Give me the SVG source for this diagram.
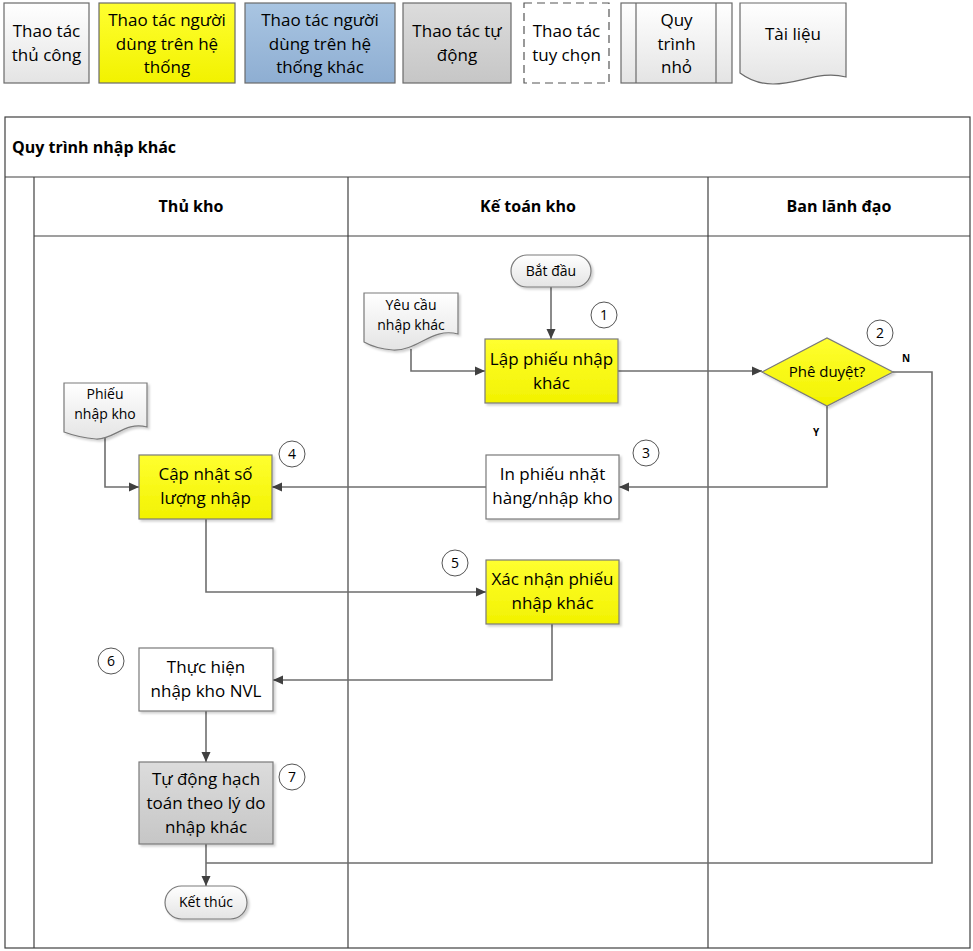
<svg xmlns="http://www.w3.org/2000/svg" width="973" height="951" viewBox="0 0 973 951">
<defs>
<linearGradient id="gW" x1="0" y1="0" x2="0" y2="1"><stop offset="0" stop-color="#ffffff"/><stop offset="1" stop-color="#e4e4e4"/></linearGradient>
<linearGradient id="gY" x1="0" y1="0" x2="0" y2="1"><stop offset="0" stop-color="#ffff30"/><stop offset="1" stop-color="#f2f200"/></linearGradient>
<linearGradient id="gB" x1="0" y1="0" x2="0" y2="1"><stop offset="0" stop-color="#a9c5e2"/><stop offset="1" stop-color="#8eaed2"/></linearGradient>
<linearGradient id="gG" x1="0" y1="0" x2="0" y2="1"><stop offset="0" stop-color="#dcdcdc"/><stop offset="1" stop-color="#c6c6c6"/></linearGradient>
<filter id="sh" x="-10%" y="-10%" width="130%" height="130%"><feDropShadow dx="2" dy="2" stdDeviation="1" flood-color="#000" flood-opacity="0.18"/></filter>
<marker id="ar" viewBox="0 0 10 10" refX="10" refY="5" markerWidth="10" markerHeight="10" markerUnits="userSpaceOnUse" orient="auto"><path d="M0,0.5 L10,5 L0,9.5 Z" fill="#404040"/></marker>
</defs>
<style>
.t{font-family:"Open Sans","Noto Sans",sans-serif;font-size:17px;fill:#000;text-anchor:middle}
.s{font-family:"Open Sans","Noto Sans",sans-serif;font-size:14px;fill:#000;text-anchor:middle}
.b{font-family:"Open Sans","Noto Sans",sans-serif;font-size:16px;font-weight:bold;fill:#000;text-anchor:middle}
.yn{font-family:"Open Sans","Noto Sans",sans-serif;font-size:10px;font-weight:bold;fill:#000;text-anchor:middle}
.box{stroke:#7a7a7a;stroke-width:1.2;filter:url(#sh)}
.lg{stroke:#6a6a6a;stroke-width:1.2}
.pl{fill:none;stroke:#404040;stroke-width:1.2}
.c{fill:none;stroke:#6e6e6e;stroke-width:1.6}
.num{fill:#fff;stroke:#555;stroke-width:1}
</style>
<rect x="0" y="0" width="973" height="951" fill="#fff"/>

<g id="legend">
<g id="lg-manual"><rect class="lg" x="4" y="3" width="85" height="80" fill="url(#gW)"/>
<text class="t" x="46.5" y="37">Thao tác</text><text class="t" x="46.5" y="61">thủ công</text></g>
<g id="lg-user"><rect class="lg" x="99" y="3" width="136" height="80" fill="url(#gY)"/>
<text class="t" x="167" y="26">Thao tác người</text><text class="t" x="167" y="50">dùng trên hệ</text><text class="t" x="167" y="73">thống</text></g>
<g id="lg-other"><rect class="lg" x="245" y="3" width="150" height="80" fill="url(#gB)"/>
<text class="t" x="320" y="26">Thao tác người</text><text class="t" x="320" y="50">dùng trên hệ</text><text class="t" x="320" y="73">thống khác</text></g>
<g id="lg-auto"><rect class="lg" x="403" y="3" width="108" height="80" fill="url(#gG)"/>
<text class="t" x="457" y="37">Thao tác tự</text><text class="t" x="457" y="61">động</text></g>
<g id="lg-opt"><rect class="lg" x="524" y="3" width="85" height="80" fill="#fff" stroke="#555" style="stroke:#555" stroke-dasharray="8,5"/>
<text class="t" x="566.5" y="37">Thao tác</text><text class="t" x="566.5" y="61">tuy chọn</text></g>
<g id="lg-sub"><rect class="lg" x="621" y="3" width="111" height="80" fill="url(#gW)"/>
<line class="lg" x1="636" y1="3" x2="636" y2="83"/><line class="lg" x1="716" y1="3" x2="716" y2="83"/>
<text class="t" x="676.5" y="26">Quy</text><text class="t" x="676.5" y="50">trình</text><text class="t" x="676.5" y="73">nhỏ</text></g>
<g id="lg-doc"><path class="lg" d="M740,3 H846 V77 C820,70 800,84 773,84 C758,84 748,79 740,73 Z" fill="url(#gW)"/>
<text class="t" x="793" y="40">Tài liệu</text></g>
</g>

<g id="pool">
<rect class="pl" x="5" y="117" width="965" height="831"/>
<line class="pl" x1="5" y1="177" x2="970" y2="177"/>
<line class="pl" x1="34" y1="177" x2="34" y2="948"/>
<line class="pl" x1="34" y1="236" x2="970" y2="236"/>
<line class="pl" x1="348" y1="177" x2="348" y2="948"/>
<line class="pl" x1="708" y1="177" x2="708" y2="948"/>
<text class="b" x="12" y="153" style="text-anchor:start">Quy trình nhập khác</text>
<text class="b" x="191" y="212">Thủ kho</text>
<text class="b" x="528" y="212">Kế toán kho</text>
<text class="b" x="839" y="212">Ban lãnh đạo</text>
</g>

<g id="connectors">
<path class="c" d="M551,287 V339" marker-end="url(#ar)"/>
<path class="c" d="M411,349 V371 H485" marker-end="url(#ar)"/>
<path class="c" d="M618,371 H762" marker-end="url(#ar)"/>
<path class="c" d="M827,406 V487 H619" marker-end="url(#ar)"/>
<path class="c" d="M893,372 H932 V863 H206"/>
<path class="c" d="M486,487 H272" marker-end="url(#ar)"/>
<path class="c" d="M105,437 V487 H139" marker-end="url(#ar)"/>
<path class="c" d="M206,519 V592 H486" marker-end="url(#ar)"/>
<path class="c" d="M552,624 V680 H273" marker-end="url(#ar)"/>
<path class="c" d="M206,711 V762" marker-end="url(#ar)"/>
<path class="c" d="M206,844 V886" marker-end="url(#ar)"/>
<text class="yn" x="906" y="362">N</text>
<text class="yn" x="816" y="436">Y</text>
</g>

<g id="n-start"><rect class="box" x="511" y="255" width="80" height="32" rx="16" fill="url(#gW)"/><text class="s" x="551" y="276">Bắt đầu</text></g>
<g id="n-doc1"><path class="box" d="M364,293 H458 V334 C432,327 418,351 393,350 C380,349 371,346 364,342 Z" fill="url(#gW)"/>
<text class="s" x="411" y="310">Yêu cầu</text><text class="s" x="411" y="330">nhập khác</text></g>
<g id="n-1"><rect class="box" x="485" y="339" width="133" height="64" fill="url(#gY)"/>
<text class="t" x="551.5" y="365">Lập phiếu nhập</text><text class="t" x="551.5" y="389">khác</text>
<circle class="num" cx="604" cy="315" r="13"/><text class="s" x="604" y="320">1</text></g>
<g id="n-2"><path class="box" d="M762,372 L827,338 L893,372 L827,406 Z" fill="url(#gY)"/>
<text class="s" x="827" y="377" style="font-size:15px">Phê duyệt?</text>
<circle class="num" cx="880" cy="333" r="13"/><text class="s" x="880" y="338">2</text></g>
<g id="n-3"><rect class="box" x="486" y="455" width="133" height="64" fill="#fff"/>
<text class="t" x="552.5" y="480">In phiếu nhặt</text><text class="t" x="552.5" y="504">hàng/nhập kho</text>
<circle class="num" cx="646" cy="453" r="13"/><text class="s" x="646" y="458">3</text></g>
<g id="n-doc2"><path class="box" d="M64,383 H147 V427 C125,421 114,440 96,439 C84,438 72,435 64,432 Z" fill="url(#gW)"/>
<text class="s" x="105" y="399">Phiếu</text><text class="s" x="105" y="419">nhập kho</text></g>
<g id="n-4"><rect class="box" x="139" y="455" width="133" height="64" fill="url(#gY)"/>
<text class="t" x="205.5" y="480">Cập nhật số</text><text class="t" x="205.5" y="504">lượng nhập</text>
<circle class="num" cx="292" cy="454" r="13"/><text class="s" x="292" y="459">4</text></g>
<g id="n-5"><rect class="box" x="486" y="560" width="133" height="64" fill="url(#gY)"/>
<text class="t" x="552.5" y="585">Xác nhận phiếu</text><text class="t" x="552.5" y="609">nhập khác</text>
<circle class="num" cx="455" cy="563" r="13"/><text class="s" x="455" y="568">5</text></g>
<g id="n-6"><rect class="box" x="139" y="648" width="134" height="63" fill="#fff"/>
<text class="t" x="206" y="673">Thực hiện</text><text class="t" x="206" y="697">nhập kho NVL</text>
<circle class="num" cx="111" cy="661" r="13"/><text class="s" x="111" y="666">6</text></g>
<g id="n-7"><rect class="box" x="139" y="762" width="134" height="82" fill="url(#gG)"/>
<text class="t" x="206" y="785">Tự động hạch</text><text class="t" x="206" y="809">toán theo lý do</text><text class="t" x="206" y="833">nhập khác</text>
<circle class="num" cx="292" cy="777" r="13"/><text class="s" x="292" y="782">7</text></g>
<g id="n-end"><rect class="box" x="165" y="886" width="82" height="33" rx="16.5" fill="url(#gW)"/><text class="s" x="206" y="907">Kết thúc</text></g>
</svg>
